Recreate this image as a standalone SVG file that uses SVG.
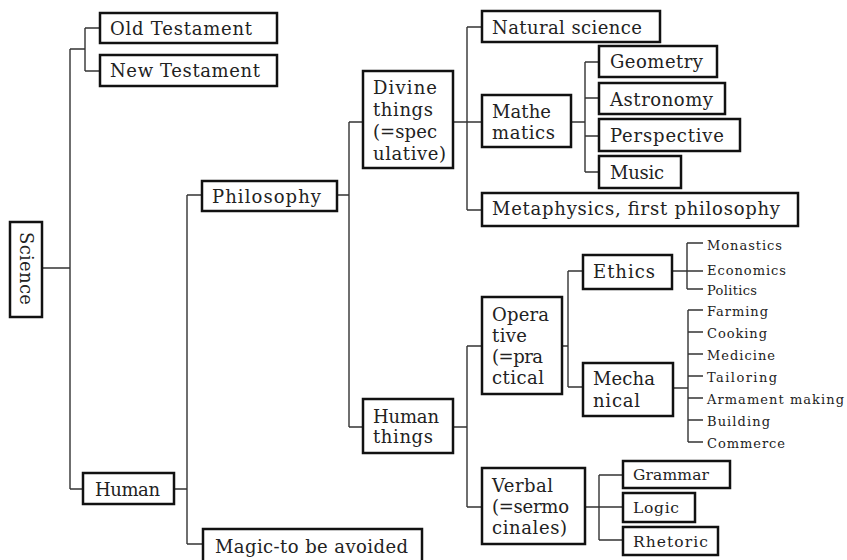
<svg xmlns="http://www.w3.org/2000/svg" width="847" height="560" viewBox="0 0 847 560">
<style>
  .box { fill: #fff; stroke: #111; stroke-width: 2.5; }
  .t { font-family: "DejaVu Serif", "Liberation Serif", serif; font-size: 18px; fill: #222; }
  .m { font-family: "DejaVu Serif", "Liberation Serif", serif; font-size: 15.5px; fill: #222; }
  .s { font-family: "DejaVu Serif", "Liberation Serif", serif; font-size: 13px; fill: #222; }
  .c { fill: none; stroke: #333; stroke-width: 1.4; }
</style>
<rect width="847" height="560" fill="#fff"/>
<g id="connectors" class="c">
  <path d="M42 268H70M70 49V489M70 49H85M85 28V71M85 28H100M85 71H100M70 489H83"/>
  <path d="M174 489H187M187 195V544M187 195H202M187 544H203"/>
  <path d="M337 195H349M349 122V427M349 122H363M349 427H363"/>
  <path d="M453 122H482M467 27V210M467 27H482M467 210H482"/>
  <path d="M571 122H585M585 62V172M585 62H599M585 98H599M585 136H599M585 172H599"/>
  <path d="M453 427H467M467 346V507M467 346H482M467 507H482"/>
  <path d="M562 346H568M568 271V387M568 271H583M568 387H583"/>
  <path d="M672 271H703M687 243V289M687 243H703M687 289H703"/>
  <path d="M673 388H688M688 310V442M688 310H703M688 332H703M688 354H703M688 376H703M688 398H703M688 420H703M688 442H703"/>
  <path d="M585 507H623M599 475V540M599 475H623M599 540H623"/>
</g>
<g id="science"><rect class="box" x="10" y="222" width="32" height="95"/>
  <text class="t" transform="translate(20 268.5) rotate(90)" text-anchor="middle" textLength="73">Science</text></g>
<g id="old-testament"><rect class="box" x="100" y="13" width="177" height="30"/><text class="t" x="110" y="35" textLength="142">Old Testament</text></g>
<g id="new-testament"><rect class="box" x="100" y="55" width="177" height="31"/><text class="t" x="110" y="77" textLength="150">New Testament</text></g>
<g id="philosophy"><rect class="box" x="202" y="181" width="135" height="30"/><text class="t" x="212" y="203" textLength="109">Philosophy</text></g>
<g id="human"><rect class="box" x="83" y="473" width="91" height="31"/><text class="t" x="95" y="496" textLength="65">Human</text></g>
<g id="magic"><rect class="box" x="203" y="529" width="219" height="40"/><text class="t" x="215" y="553" textLength="193">Magic-to be avoided</text></g>
<g id="divine"><rect class="box" x="363" y="71" width="90" height="97"/>
  <text class="t" x="373" y="94" textLength="64">Divine</text>
  <text class="t" x="373" y="116" textLength="60">things</text>
  <text class="t" x="373" y="138" textLength="64">(=spec</text>
  <text class="t" x="373" y="160" textLength="73">ulative)</text></g>
<g id="human-things"><rect class="box" x="363" y="399" width="90" height="54"/>
  <text class="t" x="373" y="423" textLength="66">Human</text>
  <text class="t" x="373" y="443" textLength="60">things</text></g>
<g id="natural-science"><rect class="box" x="482" y="11" width="178" height="31"/><text class="t" x="492" y="34" textLength="150">Natural science</text></g>
<g id="mathematics"><rect class="box" x="482" y="95" width="89" height="52"/>
  <text class="t" x="492" y="118" textLength="59">Mathe</text>
  <text class="t" x="492" y="139" textLength="63">matics</text></g>
<g id="metaphysics"><rect class="box" x="482" y="193" width="316" height="33"/><text class="t" x="492" y="215" textLength="288">Metaphysics, first philosophy</text></g>
<g id="geometry"><rect class="box" x="599" y="46" width="118" height="31"/><text class="t" x="610" y="68" textLength="93">Geometry</text></g>
<g id="astronomy"><rect class="box" x="599" y="83" width="126" height="31"/><text class="t" x="610" y="106" textLength="103">Astronomy</text></g>
<g id="perspective"><rect class="box" x="599" y="119" width="141" height="32"/><text class="t" x="610" y="142" textLength="114">Perspective</text></g>
<g id="music"><rect class="box" x="599" y="156" width="82" height="32"/><text class="t" x="610" y="179" textLength="54">Music</text></g>
<g id="operative"><rect class="box" x="482" y="297" width="80" height="97"/>
  <text class="t" x="492" y="321" textLength="57">Opera</text>
  <text class="t" x="492" y="342" textLength="35">tive</text>
  <text class="t" x="492" y="363" textLength="51">(=pra</text>
  <text class="t" x="492" y="384" textLength="52">ctical</text></g>
<g id="ethics"><rect class="box" x="583" y="255" width="89" height="34"/><text class="t" x="593" y="278" textLength="62">Ethics</text></g>
<g id="mechanical"><rect class="box" x="583" y="363" width="90" height="53"/>
  <text class="t" x="593" y="385" textLength="62">Mecha</text>
  <text class="t" x="593" y="407" textLength="47">nical</text></g>
<g id="verbal"><rect class="box" x="482" y="468" width="103" height="76"/>
  <text class="t" x="492" y="492" textLength="61">Verbal</text>
  <text class="t" x="492" y="513" textLength="77">(=sermo</text>
  <text class="t" x="492" y="534" textLength="75">cinales)</text></g>
<g id="grammar"><rect class="box" x="623" y="461" width="107" height="27"/><text class="m" x="633" y="480" textLength="76">Grammar</text></g>
<g id="logic"><rect class="box" x="623" y="493" width="72" height="29"/><text class="m" x="633" y="513" textLength="46">Logic</text></g>
<g id="rhetoric"><rect class="box" x="623" y="527" width="95" height="28"/><text class="m" x="633" y="547" textLength="75">Rhetoric</text></g>
<g id="ethics-leaves">
  <text class="s" x="707" y="250" textLength="75">Monastics</text>
  <text class="s" x="707" y="275" textLength="79">Economics</text>
  <text class="s" x="707" y="295" textLength="50">Politics</text></g>
<g id="mechanical-leaves">
  <text class="s" x="707" y="316" textLength="61">Farming</text>
  <text class="s" x="707" y="338" textLength="60">Cooking</text>
  <text class="s" x="707" y="360" textLength="68">Medicine</text>
  <text class="s" x="707" y="382" textLength="70">Tailoring</text>
  <text class="s" x="707" y="404" textLength="137">Armament making</text>
  <text class="s" x="707" y="426" textLength="63">Building</text>
  <text class="s" x="707" y="448" textLength="78">Commerce</text></g>
</svg>
